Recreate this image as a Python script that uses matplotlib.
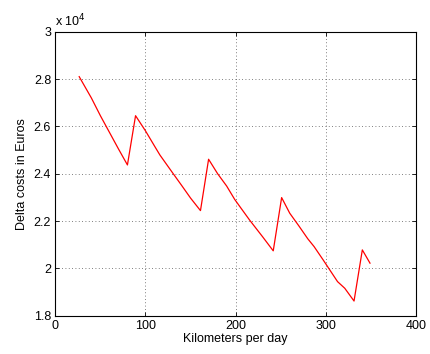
#!/usr/bin/env python3

import matplotlib
matplotlib.use("Agg")
import matplotlib.pyplot as plt
from matplotlib.ticker import FuncFormatter
import numpy as np

# data
km_per_day = [26.5, 40, 50, 60, 70, 80,
              89, 100, 110, 116, 130, 140, 150, 161,
              170, 180, 190, 199, 206, 215.5, 230, 241.7,
              251, 260, 270, 280, 287, 297, 313, 321, 331.3,
              340.5, 349]
delta_costs = [28100, 27200, 26450, 25750, 25050, 24370,
               26450, 25810, 25170, 24790, 24040, 23510, 22970, 22440,
               24610, 24000, 23480, 22910, 22540, 22040, 21330, 20740,
               22990, 22330, 21800, 21250, 20920, 20360, 19440, 19160, 18620,
               20780, 20220]

plt.rcParams['font.family'] = ['Liberation Sans', 'DejaVu Sans']

fig = plt.figure(figsize=(4.3, 3.54), dpi=100)
ax = fig.add_axes([0.1286, 0.1082, 0.9674 - 0.1286, 0.9105 - 0.1082])

ax.plot(km_per_day, delta_costs, color='red', linewidth=0.9)

ax.set_xlim(0, 400)
ax.set_ylim(18000, 30000)
ax.set_xticks(np.arange(0, 401, 100))
ax.set_yticks(np.arange(18000, 30001, 2000))
ax.yaxis.set_major_formatter(FuncFormatter(lambda v, p: f"{v / 1e4:g}"))

ax.set_xlabel("Kilometers per day", fontsize=9, labelpad=1)
ax.set_ylabel("Delta costs in Euros", fontsize=9, labelpad=4)
ax.text(0.0, 1.01, r"x 10$^{4}$", transform=ax.transAxes, fontsize=9,
        ha='left', va='bottom')

# matlab-ish ticks and grid
ax.tick_params(direction='in', top=True, right=True, labelsize=9,
               length=3, width=0.6, pad=3)
ax.grid(True, linestyle=(0, (1, 3)), linewidth=0.6, color='#555555')
for s in ax.spines.values():
    s.set_linewidth(0.8)

plt.savefig("out.png", dpi=100)
